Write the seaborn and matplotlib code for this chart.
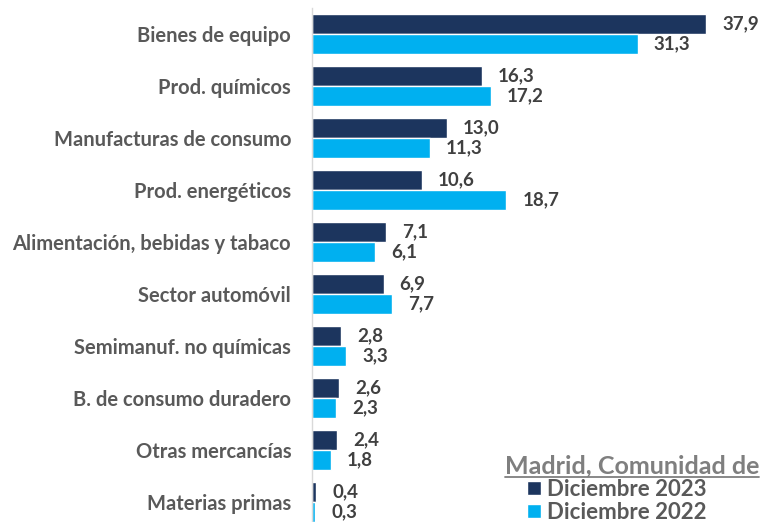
import matplotlib
matplotlib.use("Agg")
import matplotlib.pyplot as plt
import seaborn as sns
import pandas as pd
from matplotlib.lines import Line2D

categories = ["Bienes de equipo", "Prod. químicos", "Manufacturas de consumo",
              "Prod. energéticos", "Alimentación, bebidas y tabaco", "Sector automóvil",
              "Semimanuf. no químicas", "B. de consumo duradero", "Otras mercancías",
              "Materias primas"]
dic_2023 = [37.9, 16.3, 13.0, 10.6, 7.1, 6.9, 2.8, 2.6, 2.4, 0.4]
dic_2022 = [31.3, 17.2, 11.3, 18.7, 6.1, 7.7, 3.3, 2.3, 1.8, 0.3]
series = ["Diciembre 2023", "Diciembre 2022"]
legend_title = "Madrid, Comunidad de"

df = pd.DataFrame({
    "cat": categories * 2,
    "val": dic_2023 + dic_2022,
    "serie": [series[0]] * len(categories) + [series[1]] * len(categories),
})

sns.set_theme(style="white")
plt.rcParams["font.family"] = ["Lato", "DejaVu Sans"]

W, H = 762, 522
fig = plt.figure(figsize=(W / 100, H / 100), dpi=100)
ax = fig.add_axes([312 / W, 0, 1 - 312 / W, 1 - 8 / H])

sns.barplot(data=df, y="cat", x="val", hue="serie", orient="h", width=0.77,
            palette=["#1C355E", "#00B0F0"], ax=ax, legend=True, saturation=1)

ax.set_xlim(0, 450 / 10.4)
ax.set_ylim(9.385, -0.5)
ax.set_xlabel("")
ax.set_ylabel("")
ax.set_xticks([])
for s in ["top", "right", "bottom"]:
    ax.spines[s].set_visible(False)
ax.spines["left"].set_color("#D9D9D9")
ax.spines["left"].set_linewidth(1)
ax.tick_params(axis="y", length=0, pad=15)
for t in ax.get_yticklabels():
    t.set_fontweight("bold")
    t.set_color("#595959")
    t.set_fontsize(14.5)

for cont in ax.containers:
    labels = [f"{v:.1f}".replace(".", ",") for v in cont.datavalues]
    ax.bar_label(cont, labels=labels, padding=11.5, fontsize=13.5, fontweight="bold",
                 color="#404040")

handles, labs = ax.get_legend_handles_labels()
ax.get_legend().remove()
leg = fig.legend(handles, labs, loc="upper left",
                 bbox_to_anchor=(527 / W, 1 - 479 / H), bbox_transform=fig.transFigure,
                 frameon=False, prop={"weight": "bold", "size": 16},
                 handlelength=0.62, handleheight=0.62, handletextpad=0.3,
                 labelspacing=0.08, borderpad=0, borderaxespad=0)
for t in leg.get_texts():
    t.set_color("#595959")

title = fig.text(505 / W, 1 - 473 / H, legend_title, fontsize=18, fontweight="bold",
                 color="#7F7F7F", va="baseline", ha="left")
fig.canvas.draw()
bb = title.get_window_extent()
y = (H - 477) / H
fig.add_artist(Line2D([bb.x0 / W, bb.x1 / W], [y, y],
                      color="#7F7F7F", linewidth=1.3, transform=fig.transFigure))

fig.savefig("out.png", dpi=100)
